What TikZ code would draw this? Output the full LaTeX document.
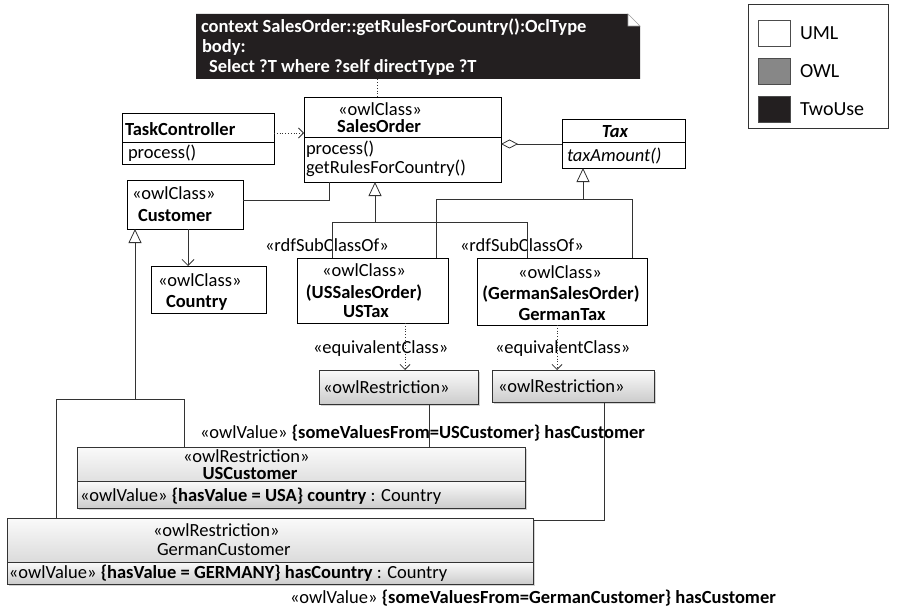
\documentclass[tikz,border=0pt]{standalone}
\usepackage{fontspec}
\setmainfont{Carlito}
\usetikzlibrary{arrows.meta,shadows}
\definecolor{lnc}{HTML}{333333}
\definecolor{owlgray}{HTML}{878787}
\definecolor{tudark}{HTML}{231F20}
\begin{document}
\begin{tikzpicture}[x=1pt,y=-1pt,
  box/.style={draw=black, line width=0.9pt, inner sep=0, outer sep=0, anchor=north west, fill=white},
  owlbox/.style={draw=black!80, line width=0.8pt, top color=gray!4, bottom color=gray!40, inner sep=0, outer sep=0, anchor=north west},
  shad/.style={drop shadow={shadow xshift=1.5pt, shadow yshift=-1.5pt, opacity=0.35}},
  ln/.style={draw=lnc, line width=0.8pt},
  gen/.style={ln, -{Triangle[open, length=14pt, width=13pt, fill=white]}},
  dep/.style={ln, dotted, -{Straight Barb[length=5pt, width=10pt]}},
  nav/.style={ln, -{Straight Barb[length=6pt, width=12pt]}},
  agg/.style={ln, {Diamond[open, length=17pt, width=9pt, fill=white]}-},
  t/.style={inner sep=0, outer sep=0, anchor=base west, font=\fontsize{18.5}{20}\selectfont},
  tc/.style={t, anchor=base},
  lg/.style={inner sep=0, outer sep=0, anchor=base west, font=\fontsize{20}{22}\selectfont},
]
\useasboundingbox (0,0) rectangle (897,607);

% ---------- note ----------
\fill[tudark] (196,14) -- (628,14) -- (640,26) -- (640,79) -- (196,79) -- cycle;
\filldraw[fill=white, draw=gray!70, line width=0.6pt] (628,14) -- (628,26) -- (640,26) -- cycle;
\node[inner sep=0, minimum width=444pt, minimum height=65pt, anchor=north west] (note) at (196,14) {};
\node[t, text=white, font=\bfseries\fontsize{18.5}{20}\selectfont] (n1) at (201,33) {context SalesOrder::getRulesForCountry():OclType};
\node[t, text=white, font=\bfseries\fontsize{18.5}{20}\selectfont] (n2) at (202,53) {body:};
\node[t, text=white, font=\bfseries\fontsize{18.5}{20}\selectfont] (n3) at (209,73) {Select ?T where ?self directType ?T};

% ---------- legend ----------
\node[draw=black!80, line width=0.8pt, inner sep=0, minimum width=140pt, minimum height=124pt, anchor=north west] (leg) at (748,4) {};
\node[box, draw=black!70, minimum width=32pt, minimum height=26pt] (lu) at (758,20) {};
\node[box, draw=black!70, fill=owlgray, minimum width=32pt, minimum height=26pt] (lo) at (758,58) {};
\node[box, draw=black!70, fill=tudark, minimum width=32pt, minimum height=26pt] (lt) at (758,96) {};
\node[lg] (lut) at (800,40) {UML};
\node[lg] (lot) at (800,78) {OWL};
\node[lg] (ltt) at (800,116) {TwoUse};

% ---------- UML classes ----------
\node[box, minimum width=152pt, minimum height=51pt] (tc) at (122,113) {};
\draw[line width=0.9pt] (tc.west |- 0,142) -- (tc.east |- 0,142);
\node[t, font=\bfseries\fontsize{18.5}{20}\selectfont] (tct) at (125,136) {TaskController};
\node[t] (tcp) at (128,158) {process()};

\node[box, minimum width=197pt, minimum height=85pt] (so) at (304,97) {};
\draw[line width=0.9pt] (so.west |- 0,137) -- (so.east |- 0,137);
\node[tc] (sos) at (380,116) {«owlClass»};
\node[tc, font=\bfseries\fontsize{18.5}{20}\selectfont] (son) at (379,133) {SalesOrder};
\node[t] (sop1) at (306,154) {process()};
\node[t] (sop2) at (306,174) {getRulesForCountry()};

\node[box, minimum width=123pt, minimum height=49pt] (tax) at (562,119) {};
\draw[line width=0.9pt] (tax.west |- 0,142) -- (tax.east |- 0,142);
\node[tc, font=\bfseries\itshape\fontsize{18.5}{20}\selectfont] (taxn) at (615,138) {Tax};
\node[t, font=\itshape\fontsize{18.5}{20}\selectfont] (taxo) at (567,161) {taxAmount()};

\node[box, minimum width=116pt, minimum height=49pt] (cust) at (127,180) {};
\node[t] (custs) at (132,199) {«owlClass»};
\node[t, font=\bfseries\fontsize{18.5}{20}\selectfont] (custn) at (138,221) {Customer};

\node[box, minimum width=115pt, minimum height=47pt] (cty) at (151,266) {};
\node[t] (ctys) at (158,286) {«owlClass»};
\node[t, font=\bfseries\fontsize{18.5}{20}\selectfont] (ctyn) at (166,307) {Country};

\node[box, minimum width=151pt, minimum height=65pt] (us) at (297,258) {};
\node[tc] (uss) at (364,276) {«owlClass»};
\node[tc, font=\bfseries\fontsize{18.5}{20}\selectfont] (usn1) at (364,298) {(USSalesOrder)};
\node[tc, font=\bfseries\fontsize{18.5}{20}\selectfont] (usn2) at (366,317) {USTax};

\node[box, minimum width=170pt, minimum height=67pt] (gso) at (477,258) {};
\node[tc] (gsos) at (560,278) {«owlClass»};
\node[tc, font=\bfseries\fontsize{18.5}{20}\selectfont] (gson1) at (561,299) {(GermanSalesOrder)};
\node[tc, font=\bfseries\fontsize{18.5}{20}\selectfont] (gson2) at (562,320) {GermanTax};

% ---------- OWL restrictions ----------
\node[owlbox, shad, minimum width=159pt, minimum height=34pt] (r1) at (319,370) {};
\node[t] (r1t) at (323,393) {«owlRestriction»};
\node[owlbox, shad, minimum width=162pt, minimum height=32pt] (r2) at (492,370) {};
\node[t] (r2t) at (498,392) {«owlRestriction»};

\node[owlbox, shad, minimum width=448pt, minimum height=61pt] (usc) at (77,447) {};
\node[owlbox, minimum width=448pt, minimum height=27pt] (usc2) at (77,481) {};
\node[t] (uscs) at (183,462.5) {«owlRestriction»};
\node[tc, font=\bfseries\fontsize{18.5}{20}\selectfont] (uscn) at (250,479.5) {USCustomer};
\node[t] (usca) at (80,501) {«owlValue» \textbf{\{hasValue = USA\} country} : Country};

\node[owlbox, shad, minimum width=526pt, minimum height=66pt] (gc) at (7,518) {};
\node[owlbox, minimum width=526pt, minimum height=22pt] (gc2) at (7,562) {};
\node[t] (gcs) at (153,536) {«owlRestriction»};
\node[t] (gcn) at (157,555) {GermanCustomer};
\node[t] (gca) at (9,578) {«owlValue» \textbf{\{hasValue = GERMANY\} hasCountry} : Country};

% ---------- labels ----------
\node[t] (rdf1) at (265,251) {«rdfSubClassOf»};
\node[t] (rdf2) at (460,251) {«rdfSubClassOf»};
\node[t] (eq1) at (313,353) {«equivalentClass»};
\node[t] (eq2) at (495,353) {«equivalentClass»};
\node[t] (sv1) at (200,438) {«owlValue» \textbf{\{someValuesFrom=USCustomer\} hasCustomer}};
\node[t] (sv2) at (290,603) {«owlValue» \textbf{\{someValuesFrom=GermanCustomer\} hasCustomer}};

% ---------- junction coordinates ----------
\coordinate (jS) at (375,222);
\coordinate (a1) at (332,222);
\coordinate (a2) at (527,222);
\coordinate (jT) at (583,199);
\coordinate (b1) at (436,199);
\coordinate (b2) at (632,199);
\coordinate (jC) at (135,399);
\coordinate (c1) at (56,399);
\coordinate (c2) at (184,399);
\coordinate (d1) at (329,200);
\coordinate (e1) at (188,240);
\coordinate (f1) at (290,133);
\coordinate (g1) at (377,88);
\coordinate (h1) at (530,144);
\coordinate (k1) at (405,340);
\coordinate (k2) at (557,340);
\coordinate (m1) at (429,420);
\coordinate (m2) at (604,520);

% ---------- connectors ----------
\draw[ln, dotted] (note.south -| g1) -- (so.north -| g1);
\draw[dep] (tc.east |- f1) -- (so.west |- f1);
\draw[agg] (so.east |- h1) -- (tax.west |- h1);

\draw[ln] (us.north -| a1) -- (a1) -- (a2) -- (gso.north -| a2);
\draw[gen] (jS) -- (so.south -| jS);
\draw[ln] (us.north -| b1) -- (b1) -- (b2) -- (gso.north -| b2);
\draw[gen] (jT) -- (tax.south -| jT);

\draw[ln] (cust.east |- d1) -- (d1) -- (so.south -| d1);
\draw[nav] (cust.south -| e1) -- (cty.north -| e1);

\draw[ln] (gc.north -| c1) -- (c1) -- (c2) -- (usc.north -| c2);
\draw[gen] (jC) -- (cust.south -| jC);

\draw[dep] (us.south -| k1) -- (r1.north -| k1);
\draw[dep] (gso.south -| k2) -- (r2.north -| k2);

\draw[ln] (r1.south -| m1) -- (usc.north -| m1);
\draw[ln] (r2.south -| m2) -- (m2) -- (gc.east |- m2);
\end{tikzpicture}
\end{document}
